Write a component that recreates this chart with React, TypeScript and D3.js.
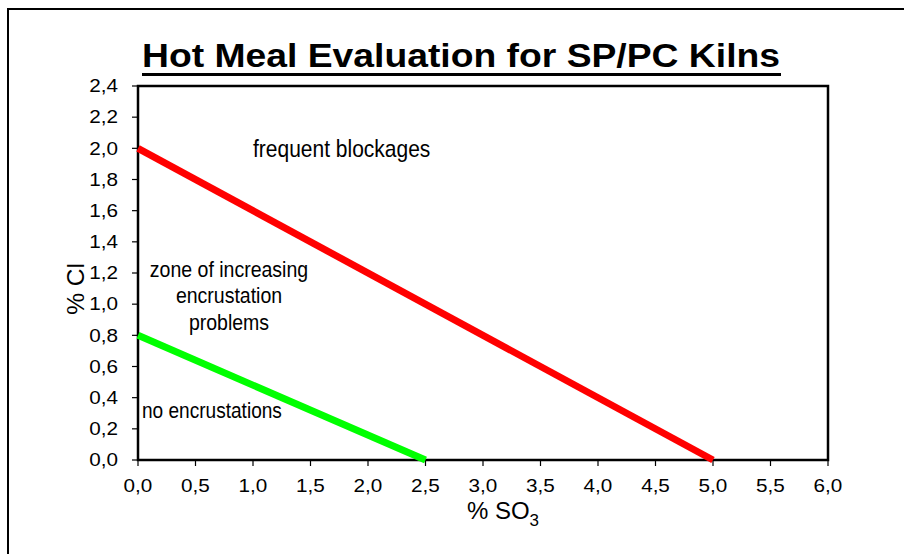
import React from 'react'
import * as d3 from 'd3'

// chart values
const xTickValues = [0, 0.5, 1, 1.5, 2, 2.5, 3, 3.5, 4, 4.5, 5, 5.5, 6]
const yTickValues = [0, 0.2, 0.4, 0.6, 0.8, 1.0, 1.2, 1.4, 1.6, 1.8, 2.0, 2.2, 2.4]
const blockageSO3 = [0, 5.0]
const blockageCl = [2.0, 0]
const encrustSO3 = [0, 2.5]
const encrustCl = [0.8, 0]
const zoneLines = ['zone of increasing', 'encrustation', 'problems']

const W = 904
const H = 554
const plot = { left: 138, top: 86, right: 828, bottom: 460 }
const font = 'Arial, "Liberation Sans", sans-serif'

const fmt = d3.formatLocale({ decimal: ',', thousands: '.', grouping: [3], currency: ['', ''] }).format('.1f')

// horizontal stretch around an anchor x
const sx = (x0: number, k: number) => `translate(${x0},0) scale(${k},1) translate(${-x0},0)`

export default function App() {
  const x = d3.scaleLinear().domain([0, 6]).range([plot.left, plot.right])
  const y = d3.scaleLinear().domain([0, 2.4]).range([plot.bottom, plot.top])

  const line = d3.line<[number, number]>().x(d => x(d[0])).y(d => y(d[1]))
  const red = line(blockageSO3.map((v, i) => [v, blockageCl[i]]))
  const green = line(encrustSO3.map((v, i) => [v, encrustCl[i]]))

  return (
    <svg width={W} height={H} style={{ position: 'absolute', left: 0, top: 0 }} fontFamily={font}>
      <rect x={0} y={0} width={W} height={H} fill="white" />
      {/* outer frame */}
      <rect x={8} y={9} width={W + 20} height={H + 20} fill="none" stroke="#000" strokeWidth={2} />

      {/* title */}
      <text x={142} y={67} fontSize={34} fontWeight="bold" transform={sx(142, 1.097)}>
        Hot Meal Evaluation for SP/PC Kilns
      </text>
      <line x1={142} x2={781} y1={74.5} y2={74.5} stroke="#000" strokeWidth={3} />

      {/* plot frame */}
      <rect x={plot.left} y={plot.top} width={plot.right - plot.left} height={plot.bottom - plot.top}
        fill="none" stroke="#000" strokeWidth={2.5} />

      {/* y axis */}
      {yTickValues.map(v => (
        <g key={'y' + v}>
          <line x1={plot.left - 6} x2={plot.left} y1={y(v)} y2={y(v)} stroke="#000" strokeWidth={1.2} />
          <text x={118} y={y(v)} dy="0.35em" textAnchor="end" fontSize={18}
            transform={sx(118, 1.15)}>{fmt(v)}</text>
        </g>
      ))}

      {/* x axis */}
      {xTickValues.map(v => (
        <g key={'x' + v}>
          <line x1={x(v)} x2={x(v)} y1={plot.bottom} y2={plot.bottom + 6} stroke="#000" strokeWidth={1.2} />
          <text x={x(v)} y={492} textAnchor="middle" fontSize={18}
            transform={sx(x(v), 1.15)}>{fmt(v)}</text>
        </g>
      ))}

      {/* axis titles */}
      <text x={503} y={519} textAnchor="middle" fontSize={24}>
        % SO<tspan dy={7} fontSize={17}>3</tspan>
      </text>
      <text transform="translate(84,289) rotate(-90)" textAnchor="middle" fontSize={24.5}>% Cl</text>

      {/* limit lines */}
      <path d={red ?? ''} fill="none" stroke="#ff0000" strokeWidth={7} />
      <path d={green ?? ''} fill="none" stroke="#00ff00" strokeWidth={7} />

      {/* zone annotations */}
      <text x={253} y={157} fontSize={24} transform={sx(253, 0.875)}>frequent blockages</text>
      {zoneLines.map((t, i) => (
        <text key={t} x={229} y={277 + i * 26.5} textAnchor="middle" fontSize={22.3}
          transform={sx(229, 0.875)}>{t}</text>
      ))}
      <text x={142} y={418} fontSize={21.8} transform={sx(142, 0.875)}>no encrustations</text>
    </svg>
  )
}
